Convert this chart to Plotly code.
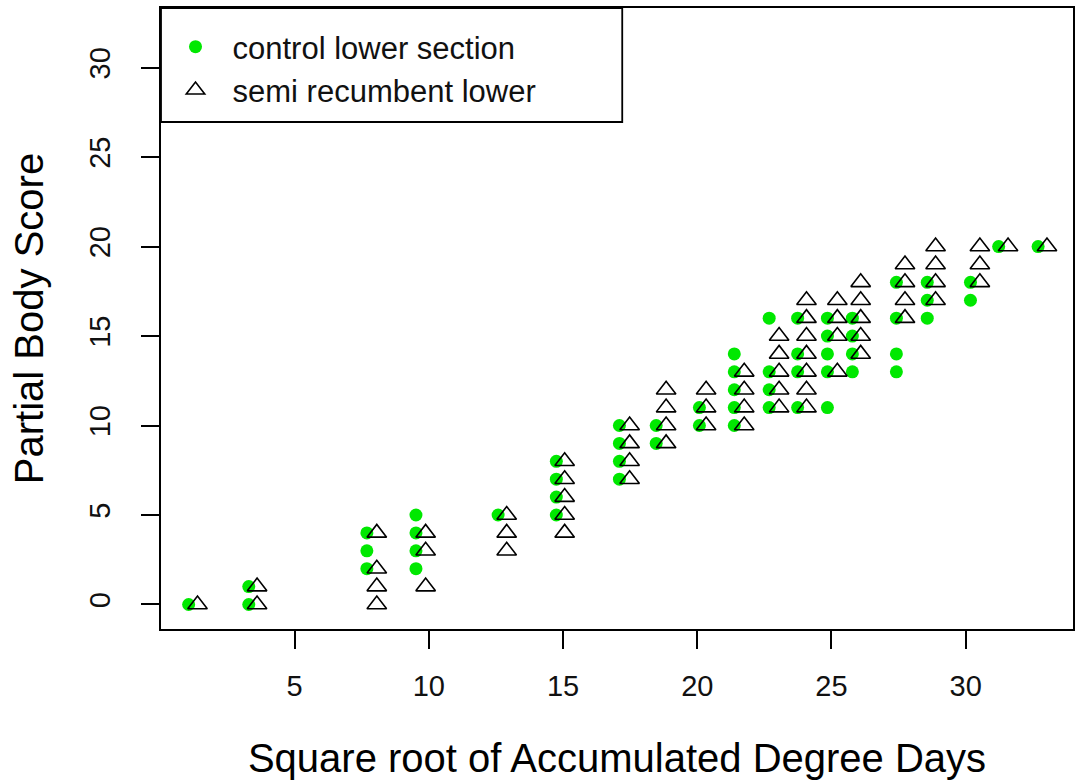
import plotly.graph_objects as go

# Square root of accumulated degree days for each sampling occasion
control_x = [1.05, 3.29, 7.69, 9.52, 12.58, 14.75, 17.10, 18.47, 20.08, 21.38,
             22.68, 23.74, 24.85, 25.78, 27.42, 28.57, 30.18, 31.23, 32.70]
semi_x = [1.38, 3.60, 8.06, 9.88, 12.90, 15.06, 17.48, 18.84, 20.33, 21.75,
          23.05, 24.07, 25.22, 26.09, 27.74, 28.88, 30.53, 31.58, 33.03]

# Partial body scores recorded on each occasion
control_scores = [[0], [1, 0], [4, 3, 2], [5, 4, 3, 2], [5], [8, 7, 6, 5],
                  [10, 9, 8, 7], [10, 9], [11, 10], [14, 13, 12, 11, 10],
                  [16, 13, 12, 11], [16, 14, 13, 11], [16, 15, 14, 13, 11],
                  [16, 15, 14, 13], [18, 16, 14, 13], [18, 17, 16], [18, 17],
                  [20], [20]]
semi_scores = [[0], [1, 0], [4, 2, 1, 0], [4, 3, 1], [5, 4, 3], [8, 7, 6, 5, 4],
               [10, 9, 8, 7], [12, 11, 10, 9], [12, 11, 10], [13, 12, 11, 10],
               [15, 14, 13, 12, 11], [17, 16, 15, 14, 13, 12, 11],
               [17, 16, 15, 13], [18, 17, 16, 15, 14], [19, 18, 17, 16],
               [20, 19, 18, 17], [20, 19, 18], [20], [20]]

x_ticks = [5, 10, 15, 20, 25, 30]
y_ticks = [0, 5, 10, 15, 20, 25, 30]


def expand(xs, groups):
    px, py = [], []
    for x, g in zip(xs, groups):
        for s in g:
            px.append(x)
            py.append(s)
    return px, py


cx, cy = expand(control_x, control_scores)
sx, sy = expand(semi_x, semi_scores)

FONT = "Liberation Sans, Arial, sans-serif"

fig = go.Figure()
fig.add_trace(go.Scatter(
    x=cx, y=cy, mode="markers", name="control lower section",
    marker=dict(symbol="circle", size=13, color="#00e800", line=dict(width=0)),
))
fig.add_trace(go.Scatter(
    x=sx, y=sy, mode="markers", name="semi recumbent lower",
    marker=dict(symbol="triangle-up-open", size=17, color="black",
                line=dict(width=1.6, color="black")),
))

W, H = 1077, 780
L, R, T, B = 160.5, 1075, 8, 629

# legend frame
fig.add_shape(type="rect", xref="paper", yref="paper",
              x0=0, x1=(623 - L) / (R - L), y0=(B - 122) / (B - T), y1=1,
              line=dict(color="black", width=1.8), fillcolor="white", layer="below")

axis_common = dict(
    showline=True, mirror=True, linecolor="black", linewidth=1.8,
    ticks="outside", ticklen=18, tickwidth=1.8, tickcolor="black",
    showgrid=False, zeroline=False,
    tickfont=dict(family=FONT, size=29, color="#111111"),
)

fig.update_layout(
    width=W, height=H,
    margin=dict(l=L, r=W - R, t=T, b=H - B, pad=0),
    paper_bgcolor="white", plot_bgcolor="white",
    xaxis=dict(range=[0.02, 34.0], tickvals=x_ticks, ticklabelstandoff=12,
               **axis_common,
               title=dict(text="Square root of Accumulated Degree Days",
                          font=dict(family=FONT, size=40, color="black"),
                          standoff=43)),
    yaxis=dict(range=[-1.37, 33.33], tickvals=y_ticks, tickangle=-90,
               ticklabelstandoff=20, **axis_common,
               title=dict(text="Partial Body Score",
                          font=dict(family=FONT, size=40, color="black"),
                          standoff=28)),
    legend=dict(x=(158 - L) / (R - L), y=1 - 12 / (B - T),
                xanchor="left", yanchor="top",
                bgcolor="rgba(0,0,0,0)", borderwidth=0, itemwidth=64,
                font=dict(family=FONT, size=31, color="#111111"),
                tracegroupgap=0),
    showlegend=True,
)

fig.write_html("out.html")
